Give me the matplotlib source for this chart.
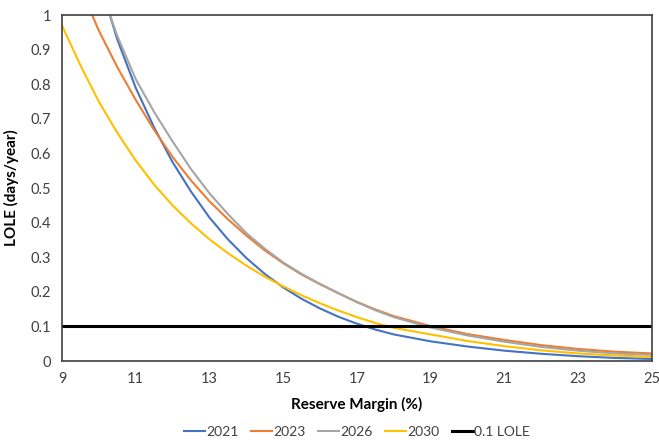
import numpy as np
import matplotlib
matplotlib.use('Agg')
import matplotlib.pyplot as plt

plt.rcParams['font.family'] = ['Lato', 'DejaVu Sans']

# values
x_2021 = [10.3, 10.5, 11.0, 11.5, 12.0, 12.5, 13.0, 13.5, 14.0, 14.5, 15.0, 15.5, 16.0,
          16.5, 17.0, 17.5, 18.0, 19.0, 20.0, 21.0, 22.0, 23.0, 24.0, 25.0]
y_2021 = [1.0, 0.93, 0.79, 0.675, 0.575, 0.49, 0.415, 0.352, 0.298, 0.252, 0.213, 0.18, 0.152,
          0.128, 0.108, 0.091, 0.077, 0.057, 0.042, 0.030, 0.021, 0.014, 0.009, 0.006]

x_2023 = [9.82, 10.0, 10.5, 11.0, 11.5, 12.0, 12.5, 13.0, 13.5, 14.0, 14.5, 15.0, 15.5, 16.0,
          16.5, 17.0, 17.5, 18.0, 19.0, 20.0, 21.0, 22.0, 23.0, 24.0, 25.0]
y_2023 = [1.0, 0.955, 0.85, 0.755, 0.668, 0.59, 0.522, 0.462, 0.41, 0.363, 0.32, 0.283, 0.25, 0.222,
          0.196, 0.171, 0.149, 0.13, 0.101, 0.078, 0.061, 0.046, 0.035, 0.027, 0.022]

x_2026 = [10.3, 10.5, 11.0, 11.5, 12.0, 12.5, 13.0, 13.5, 14.0, 14.5, 15.0, 15.5, 16.0,
          16.5, 17.0, 17.5, 18.0, 19.0, 20.0, 21.0, 22.0, 23.0, 24.0, 25.0]
y_2026 = [1.0, 0.94, 0.815, 0.72, 0.635, 0.555, 0.485, 0.425, 0.37, 0.325, 0.285, 0.252, 0.223,
          0.196, 0.17, 0.147, 0.127, 0.097, 0.074, 0.056, 0.041, 0.030, 0.022, 0.018]

x_2030 = [9.0, 9.5, 10.0, 10.5, 11.0, 11.5, 12.0, 12.5, 13.0, 13.5, 14.0, 14.5, 15.0, 15.5, 16.0,
          16.5, 17.0, 17.5, 18.0, 19.0, 20.0, 21.0, 22.0, 23.0, 24.0, 25.0]
y_2030 = [0.97, 0.855, 0.75, 0.66, 0.58, 0.51, 0.45, 0.398, 0.352, 0.312, 0.276, 0.244, 0.216, 0.19, 0.167,
          0.146, 0.127, 0.11, 0.096, 0.077, 0.058, 0.043, 0.031, 0.022, 0.016, 0.012]

lole_x = [9, 25]
lole_y = [0.1, 0.1]

fig = plt.figure(figsize=(6.59, 4.43), dpi=100)
ax = fig.add_axes([0.094, 0.185, 0.895, 0.781])

ax.plot(x_2021, y_2021, color='#4472C4', lw=1.5, label='2021')
ax.plot(x_2023, y_2023, color='#ED7D31', lw=1.5, label='2023')
ax.plot(x_2026, y_2026, color='#A5A5A5', lw=1.5, label='2026')
ax.plot(x_2030, y_2030, color='#FFC000', lw=1.5, label='2030')
ax.plot(lole_x, lole_y, color='black', lw=2.2, label='0.1 LOLE')

ax.set_xlim(9, 25)
ax.set_ylim(0, 1)
ax.set_xticks(np.arange(9, 26, 2))
ax.set_yticks(np.arange(0, 1.01, 0.1))
ax.set_yticklabels(['0', '0.1', '0.2', '0.3', '0.4', '0.5', '0.6', '0.7', '0.8', '0.9', '1'])
ax.tick_params(length=0, labelsize=10.5, colors='#404040', pad=8)
for s in ax.spines.values():
    s.set_color('#404040')
    s.set_linewidth(1.2)

ax.set_xlabel('Reserve Margin (%)', fontsize=11, fontweight='bold', labelpad=8)
ax.set_ylabel('LOLE (days/year)', fontsize=11, fontweight='bold', labelpad=8)

ax.legend(loc='center', bbox_to_anchor=(0.5, -0.205), ncol=5, frameon=False,
          fontsize=10, handlelength=1.5, handletextpad=0.1, columnspacing=0.9,
          labelcolor='#404040')

fig.savefig('out.png', dpi=100)
